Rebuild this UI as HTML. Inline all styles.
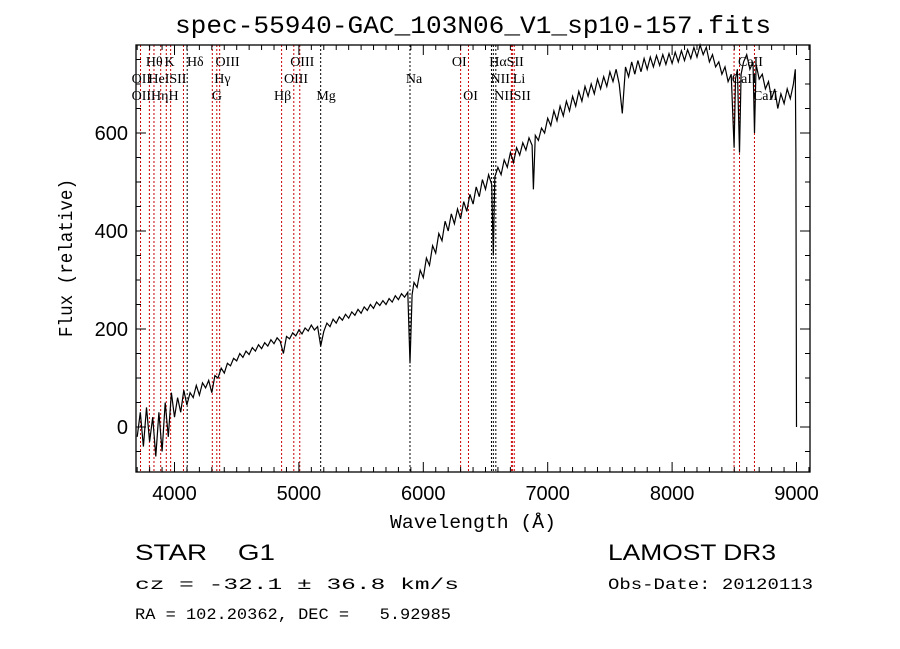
<!DOCTYPE html>
<html><head><meta charset="utf-8"><style>
body{margin:0;background:#fff;}
svg{display:block;}
text{fill:#000;white-space:pre;}
</style></head><body>
<svg id="chart" width="900" height="649" xmlns="http://www.w3.org/2000/svg" xml:space="preserve">
<rect width="900" height="649" fill="#fff"/>
<text x="473" y="33" text-anchor="middle" font-family="Liberation Mono, monospace" font-size="25" textLength="596" lengthAdjust="spacingAndGlyphs">spec-55940-GAC_103N06_V1_sp10-157.fits</text>
<g id="lines"></g>
<g id="linelabels" font-family="Liberation Serif, serif" font-size="14"></g>
<path id="spec" fill="none" stroke="#000" stroke-width="1.2"/>
<g id="axes"></g>
<text x="473" y="528" text-anchor="middle" font-family="Liberation Mono, monospace" font-size="19" textLength="166" lengthAdjust="spacingAndGlyphs">Wavelength (Å)</text>
<text transform="translate(72,258) rotate(-90)" text-anchor="middle" font-family="Liberation Mono, monospace" font-size="19" textLength="158" lengthAdjust="spacingAndGlyphs">Flux (relative)</text>
<text x="135" y="560" font-family="Liberation Sans, sans-serif" font-size="22" textLength="140" lengthAdjust="spacingAndGlyphs">STAR    G1</text>
<text x="608" y="560" font-family="Liberation Sans, sans-serif" font-size="22" textLength="168" lengthAdjust="spacingAndGlyphs">LAMOST DR3</text>
<text x="135" y="589" font-family="Liberation Mono, monospace" font-size="16" textLength="324" lengthAdjust="spacingAndGlyphs">cz = -32.1 ± 36.8 km/s</text>
<text x="608" y="589" font-family="Liberation Mono, monospace" font-size="16" textLength="205" lengthAdjust="spacingAndGlyphs">Obs-Date: 20120113</text>
<text x="135" y="619" font-family="Liberation Mono, monospace" font-size="16" textLength="316" lengthAdjust="spacingAndGlyphs">RA = 102.20362, DEC =   5.92985</text>
</svg>
<script>
const spectrum=[[3700,-20],[3725,30],[3750,-40],[3775,40],[3800,-30],[3825,20],[3850,-60],[3875,30],[3900,-50],[3925,50],[3950,-20],[3975,70],[4000,20],[4025,60],[4050,30],[4075,75],[4100,45],[4125,70],[4150,60],[4175,85],[4200,65],[4225,90],[4250,80],[4275,95],[4300,70],[4325,105],[4350,100],[4375,120],[4400,110],[4425,130],[4450,125],[4475,140],[4500,135],[4525,150],[4550,142],[4575,155],[4600,148],[4625,162],[4650,155],[4675,168],[4700,160],[4725,172],[4750,165],[4775,178],[4800,170],[4825,182],[4850,175],[4875,150],[4900,185],[4925,180],[4950,192],[4975,186],[5000,198],[5025,190],[5050,202],[5075,196],[5100,208],[5125,198],[5150,205],[5175,165],[5200,195],[5225,212],[5250,205],[5275,220],[5300,212],[5325,225],[5350,218],[5375,230],[5400,222],[5425,235],[5450,228],[5475,240],[5500,232],[5525,245],[5550,238],[5575,250],[5600,242],[5625,255],[5650,248],[5675,258],[5700,250],[5725,262],[5750,255],[5775,268],[5800,260],[5825,272],[5850,265],[5875,275],[5893,130],[5910,270],[5925,295],[5950,285],[5975,320],[6000,305],[6025,345],[6050,330],[6075,370],[6100,355],[6125,395],[6150,380],[6175,420],[6200,400],[6225,435],[6250,415],[6275,445],[6300,425],[6325,460],[6350,440],[6375,475],[6400,455],[6425,490],[6450,470],[6475,505],[6500,485],[6525,515],[6550,495],[6563,350],[6575,510],[6600,530],[6625,515],[6650,545],[6675,530],[6700,560],[6725,540],[6750,570],[6775,555],[6800,580],[6825,565],[6850,590],[6875,575],[6885,485],[6900,595],[6925,585],[6950,610],[6975,600],[7000,630],[7025,615],[7050,645],[7075,625],[7100,655],[7125,635],[7150,665],[7175,645],[7200,675],[7225,655],[7250,685],[7275,665],[7300,695],[7325,675],[7350,700],[7375,680],[7400,710],[7425,690],[7450,715],[7475,695],[7500,725],[7525,705],[7550,730],[7575,700],[7600,640],[7625,735],[7650,715],[7675,745],[7700,720],[7725,748],[7750,725],[7775,752],[7800,730],[7825,755],[7850,735],[7875,758],[7900,738],[7925,760],[7950,740],[7975,762],[8000,742],[8025,765],[8050,745],[8075,768],[8100,748],[8125,770],[8150,752],[8175,775],[8200,755],[8225,780],[8250,760],[8275,775],[8300,745],[8325,760],[8350,735],[8375,745],[8400,720],[8425,735],[8450,705],[8475,720],[8498,570],[8510,710],[8525,730],[8542,560],[8555,720],[8575,745],[8600,760],[8625,730],[8650,745],[8662,600],[8675,740],[8700,710],[8725,720],[8750,690],[8775,705],[8800,670],[8825,690],[8850,650],[8875,680],[8900,660],[8925,690],[8950,670],[8975,700],[8990,730],[8995,560],[9000,0]];
const lineWaves=[3727,3798,3835,3889,3934,3969,4072,4102,4304,4340,4363,4861,4959,5007,5175,5893,6300,6363,6548,6563,6583,6708,6716,6731,8498,8542,8662];
const lineBlack=[0,0,0,0,0,0,0,1,0,0,0,0,0,0,1,1,0,0,1,1,1,0,0,0,0,0,0];
const labels=[["Hθ",3770,1],["K",3920,1],["Hδ",4100,1],["OIII",4330,1],["OIII",4930,1],["OI",6230,1],["HαSII",6530,1],["CaII",8530,1],
["OII",3655,2],["HeISII",3790,2],["Hγ",4320,2],["OIII",4880,2],["Na",5860,2],["NII",6540,2],["Li",6720,2],["CaII",8480,2],
["OIIHηH",3655,3],["G",4300,3],["Hβ",4800,3],["Mg",5140,3],["OI",6320,3],["NIISII",6570,3],["CaII",8650,3]];
const X0=136,X1=810,Y0=45,Y1=472;
function xs(w){return 174.5+(w-4000)*0.1244;}
function ys(f){return 427-0.49*f;}
const NS="http://www.w3.org/2000/svg";
function mk(tag,attrs,parent){const e=document.createElementNS(NS,tag);for(const k in attrs)e.setAttribute(k,attrs[k]);parent.appendChild(e);return e;}
const lg=document.getElementById('lines');
lineWaves.forEach((w,i)=>{const l=mk('line',{x1:xs(w),x2:xs(w),y1:Y0,y2:Y1,stroke:lineBlack[i]?'#000':'#c00','stroke-width':1,'stroke-dasharray':'2,2'},lg);

});
const ll=document.getElementById('linelabels');
labels.forEach(([t,w,r])=>{const e=mk('text',{x:xs(w),y:49+r*17},ll);e.textContent=t;

});
let d='';spectrum.forEach(([w,f],i)=>{let y=Math.max(Y0,Math.min(Y1,ys(f)));d+=(i?'L':'M')+xs(w).toFixed(1)+','+y.toFixed(1);});
document.getElementById('spec').setAttribute('d',d);
const ax=document.getElementById('axes');
mk('rect',{x:X0,y:Y0,width:X1-X0,height:Y1-Y0,fill:'none',stroke:'#000','stroke-width':1.3},ax);
for(let w=3700;w<=9100;w+=100){const x=xs(w);if(x<X0||x>X1)continue;const L=w%1000==0?10:5;
mk('line',{x1:x,x2:x,y1:Y1,y2:Y1-L,stroke:'#000'},ax);mk('line',{x1:x,x2:x,y1:Y0,y2:Y0+L,stroke:'#000'},ax);
if(w%1000==0){const t=mk('text',{x:x,y:500,'text-anchor':'middle','font-family':'Liberation Sans, sans-serif','font-size':20},ax);t.textContent=w;

}}
for(let f=-50;f<=750;f+=50){const y=ys(f);if(y<Y0||y>Y1)continue;const L=f%200==0?10:5;
mk('line',{x1:X0,x2:X0+L,y1:y,y2:y,stroke:'#000'},ax);mk('line',{x1:X1,x2:X1-L,y1:y,y2:y,stroke:'#000'},ax);
if(f%200==0){const t=mk('text',{x:128,y:y+7,'text-anchor':'end','font-family':'Liberation Sans, sans-serif','font-size':20},ax);t.textContent=f;

}}
</script>
</body></html>
